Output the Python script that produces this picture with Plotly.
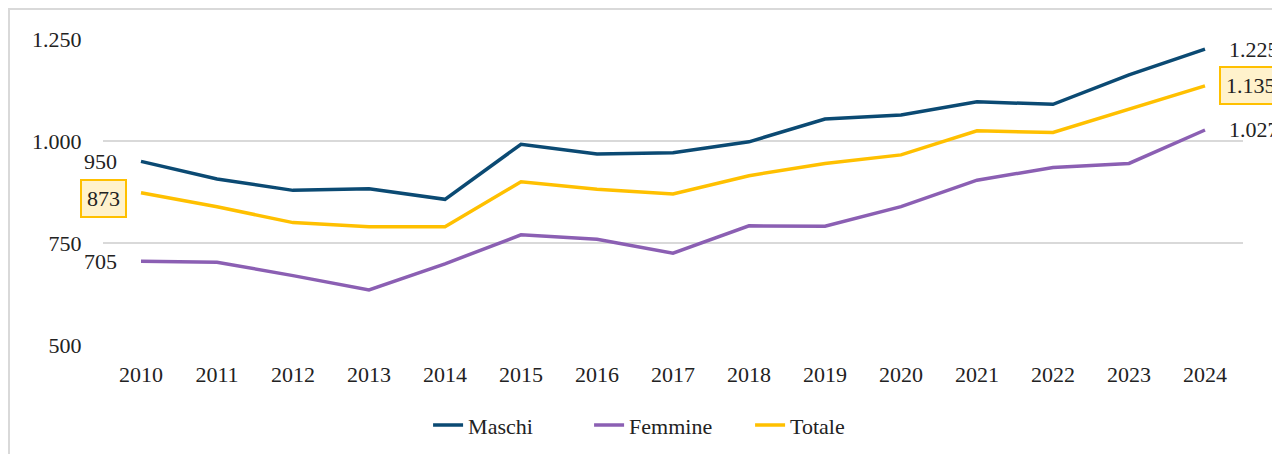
import plotly.graph_objects as go

years = [str(y) for y in range(2010, 2025)]
maschi = [950, 907, 879, 883, 857, 992, 968, 971, 998, 1054, 1064, 1096, 1090, 1162, 1225]
femmine = [705, 703, 670, 635, 699, 770, 759, 725, 792, 791, 839, 904, 935, 945, 1027]
totale = [873, 839, 800, 790, 790, 900, 882, 870, 915, 945, 966, 1025, 1021, 1078, 1135]

series_names = ["Maschi", "Femmine", "Totale"]
colors = ["#0b4a73", "#8b5fb3", "#ffc000"]
y_ticks = [500, 750, 1000, 1250]

FONT = "Liberation Serif"
FS = 22
TXT = "#222222"

def fmt(v):
    return f"{v:,}".replace(",", ".")

fig = go.Figure()
for name, vals, col in zip(series_names, [maschi, femmine, totale], colors):
    fig.add_trace(go.Scatter(x=years, y=vals, name=name, mode="lines",
                             line=dict(color=col, width=3.5)))

annotations = []
last = len(years) - 1
for vals, boxed in [(maschi, False), (femmine, False), (totale, True)]:
    for idx, anchor, shift in [(0, "right", -22), (last, "left", 22)]:
        a = dict(x=idx, y=vals[idx], xref="x", yref="y", text=fmt(vals[idx]),
                 showarrow=False, xanchor=anchor, yanchor="middle", xshift=shift,
                 font=dict(family=FONT, size=FS, color=TXT))
        if boxed:
            a.update(bgcolor="#fff2cc", bordercolor="#ffc000", borderwidth=2, borderpad=5,
                     yshift=-6 if idx == 0 else 0,
                     xshift=-14 if idx == 0 else 14)
        annotations.append(a)

fig.update_layout(
    width=1280, height=454,
    margin=dict(l=95, r=45, t=31, b=117),
    paper_bgcolor="white", plot_bgcolor="white",
    separators=",.",
    font=dict(family=FONT, size=FS, color=TXT),
    xaxis=dict(type="category", range=[-0.5, 14.5], showgrid=False, showline=False,
               ticks="outside", ticklen=10, tickcolor="rgba(0,0,0,0)",
               tickfont=dict(family=FONT, size=FS, color=TXT)),
    yaxis=dict(range=[500, 1250], tickvals=y_ticks, tickformat=",d",
               showgrid=True, gridcolor="#d9d9d9", gridwidth=2, zeroline=False,
               ticks="outside", ticklen=16, tickcolor="rgba(0,0,0,0)",
               tickfont=dict(family=FONT, size=FS, color=TXT)),
    legend=dict(orientation="h", x=0.497, xanchor="center", y=-0.262, yanchor="middle",
                font=dict(family=FONT, size=FS, color=TXT),
                entrywidth=116, entrywidthmode="pixels",
                traceorder="normal"),
    annotations=annotations,
    shapes=[dict(type="rect", xref="paper", yref="paper",
                 x0=-94/1140, x1=1.2, y0=-0.5, y1=1 + 30/306,
                 line=dict(color="#d9d9d9", width=2), fillcolor="rgba(0,0,0,0)",
                 layer="below")],
)

fig.write_html("out.html")
